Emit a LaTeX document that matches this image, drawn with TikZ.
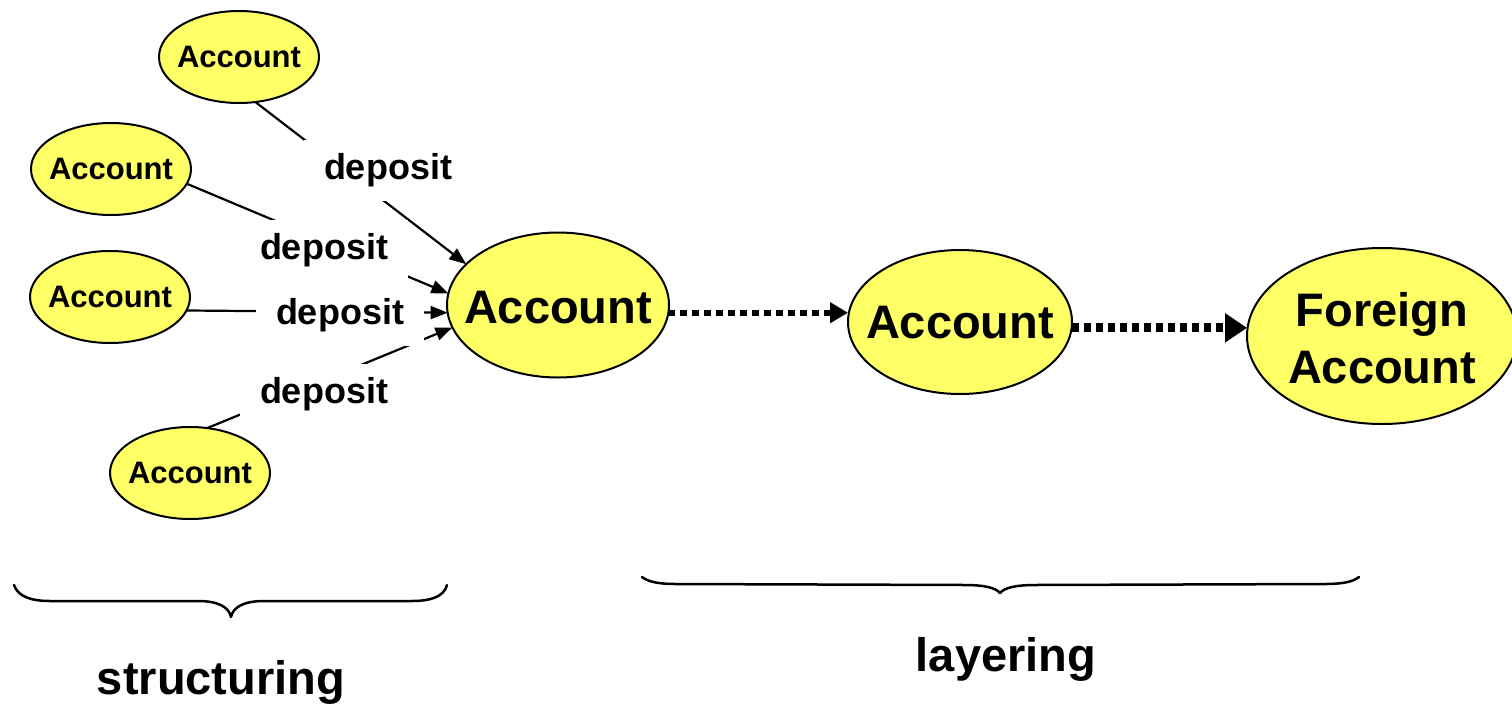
\documentclass[tikz,border=0pt]{standalone}
\usepackage{fontspec}
\setmainfont{Liberation Sans}
\usetikzlibrary{shapes.geometric,arrows.meta}
\definecolor{accfill}{HTML}{FFFF66}
\newcommand{\zbox}[1]{\makebox[0pt]{#1}}
\newcommand{\lowerby}[2]{\raisebox{-#1}[\height][\depth]{#2}}
\begin{document}
\begin{tikzpicture}[x=1pt,y=-1pt,
  acc/.style={ellipse,draw=black,line width=2pt,fill=accfill,inner sep=0pt,outer sep=0pt,font=\bfseries},
  smallacc/.style={acc,minimum width=160pt,minimum height=92pt,font=\fontsize{31}{36}\selectfont\bfseries},
  bigacc/.style={acc,font=\fontsize{47}{57}\selectfont\bfseries},
  deplabel/.style={fill=white,inner sep=0pt,minimum width=168pt,minimum height=61pt,font=\fontsize{36}{40}\selectfont\bfseries},
  deparrow/.style={line width=2.2pt,-{Triangle[length=17pt,width=13pt]}},
  dotarrowA/.style={line width=6pt,dash pattern=on 7pt off 5pt,-{Triangle[length=18pt,width=20pt]}},
  dotarrowB/.style={line width=9pt,dash pattern=on 7pt off 5pt,-{Triangle[length=22pt,width=28pt]}},
  brace/.style={line width=2.5pt,line cap=round,line join=round},
  caption/.style={font=\fontsize{47}{57}\selectfont\bfseries}
]
\useasboundingbox (0,0) rectangle (1512,707);

% nodes
\node[smallacc] (a1) at (239,57) {\zbox{Account}};
\node[smallacc] (a2) at (111,169) {\zbox{Account}};
\node[smallacc] (a3) at (110,297) {\zbox{Account}};
\node[smallacc] (a4) at (190,473) {\zbox{Account}};
\node[bigacc,minimum width=222pt,minimum height=145pt] (main) at (558,305) {\zbox{\lowerby{3pt}{Account}}};
\node[bigacc,minimum width=224pt,minimum height=144pt] (mid) at (960,322) {\zbox{\lowerby{1pt}{Account}}};
\node[bigacc,minimum width=270pt,minimum height=176pt] (foreign) at (1382,336)
  {\zbox{\lowerby{8pt}{\begin{tabular}{@{}c@{}}Foreign\\Account\end{tabular}}}};

% deposit connectors
\draw[deparrow] (a1.-70.5) -- (main.156.4);
\draw[deparrow] (a2.-11) -- (main.174.9);
\draw[deparrow] (a3.-10.6) -- (main.-176.4);
\draw[deparrow] (a4.69.8) -- (main.-168.3);

% deposit labels (white boxes interrupt the connectors)
\node[deplabel] (d1) at (388,170) {deposit};
\node[deplabel] (d2) at (324,250) {deposit};
\node[deplabel] (d3) at (340,315) {deposit};
\node[deplabel] (d4) at (324,394) {deposit};

% layering connectors
\coordinate (m1) at (main.-4);
\coordinate (m2) at (mid.-3);
\draw[dotarrowA] (m1) -- (m1 -| mid.west);
\draw[dotarrowB] (m2) -- (m2 -| foreign.west);

% braces
\draw[brace] (14,585) .. controls (18,597) and (32,601) .. (50,601) -- (198,601)
  .. controls (218,601) and (229,607) .. (231,617)
  .. controls (233,607) and (244,601) .. (264,601) -- (412,601)
  .. controls (430,601) and (444,597) .. (447,585);
\draw[brace] (642,577) .. controls (648,582) and (660,584) .. (675,584) -- (965,585)
  .. controls (985,585) and (996,588) .. (1000,593)
  .. controls (1004,588) and (1015,585) .. (1035,585) -- (1326,584)
  .. controls (1341,584) and (1353,582) .. (1359,577);

% captions
\node[caption] (structuring) at (221,682) {structuring};
\node[caption] (layering) at (1006,659) {layering};
\end{tikzpicture}
\end{document}
